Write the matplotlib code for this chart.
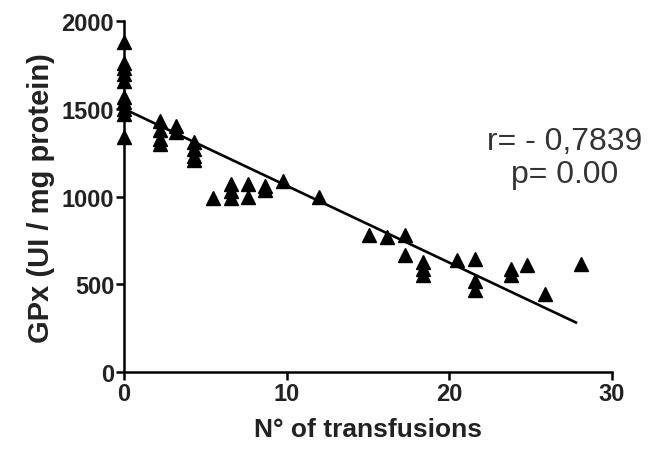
import matplotlib
matplotlib.use("Agg")
import matplotlib.pyplot as plt
import numpy as np

plt.rcParams['font.family'] = ['Liberation Sans', 'DejaVu Sans']

# values
transfusions = [0, 0, 0, 0, 0, 0, 0, 0, 0, 0,
                2.2, 2.2, 2.2, 2.2,
                3.2, 3.2,
                4.3, 4.3, 4.3, 4.3,
                5.5,
                6.6, 6.6, 6.6,
                7.6, 7.6,
                8.7, 8.7,
                9.8,
                12.0,
                15.1,
                16.2,
                17.3, 17.3,
                18.4, 18.4, 18.4,
                20.5,
                21.6, 21.6, 21.6,
                23.8, 23.8,
                24.8,
                25.9,
                28.1]
gpx = [1880, 1760, 1730, 1700, 1660, 1570, 1540, 1500, 1470, 1340,
       1430, 1380, 1330, 1300,
       1400, 1370,
       1310, 1270, 1230, 1210,
       990,
       1070, 1030, 990,
       1070, 1000,
       1060, 1040,
       1090,
       1000,
       780,
       770,
       780, 665,
       630, 590, 555,
       640,
       645, 520, 470,
       585, 555,
       610,
       445,
       615]

# regression line as drawn in the figure
fit_intercept = 1500
fit_slope = -43.8
r_text = "r= - 0,7839"
p_text = "p= 0.00"

x = np.array(transfusions)
y = np.array(gpx)

fig = plt.figure(figsize=(6.7, 4.6), dpi=100)
ax = fig.add_axes([0.185, 0.189, 0.728, 0.763])

xl = np.array([0, 27.8])
ax.plot(xl, fit_intercept + fit_slope * xl, color="black", lw=1.9, zorder=2)
ax.plot(x, y, linestyle="none", marker="^", markersize=9.5,
        color="black", clip_on=False, zorder=3)

ax.set_xlim(0, 30)
ax.set_ylim(0, 2000)
ax.set_xticks([0, 10, 20, 30])
ax.set_yticks([0, 500, 1000, 1500, 2000])

for s in ["top", "right"]:
    ax.spines[s].set_visible(False)
for s in ["left", "bottom"]:
    ax.spines[s].set_linewidth(1.8)
ax.tick_params(direction="out", length=6, width=1.8, labelsize=17, pad=1)
for lab in ax.get_xticklabels() + ax.get_yticklabels():
    lab.set_fontweight("bold")
    lab.set_color("#222222")

ax.set_xlabel("N° of transfusions", fontsize=19, fontweight="bold", labelpad=9,
              color="#222222")
ax.set_ylabel("GPx (UI / mg protein)", fontsize=21, fontweight="bold", labelpad=5,
              color="#222222")

ax.text(0.904, 0.612, r_text + "\n" + p_text, transform=ax.transAxes,
        ha="center", va="center", fontsize=23, linespacing=1.15, color="#333333")

fig.savefig("out.png", dpi=100)
